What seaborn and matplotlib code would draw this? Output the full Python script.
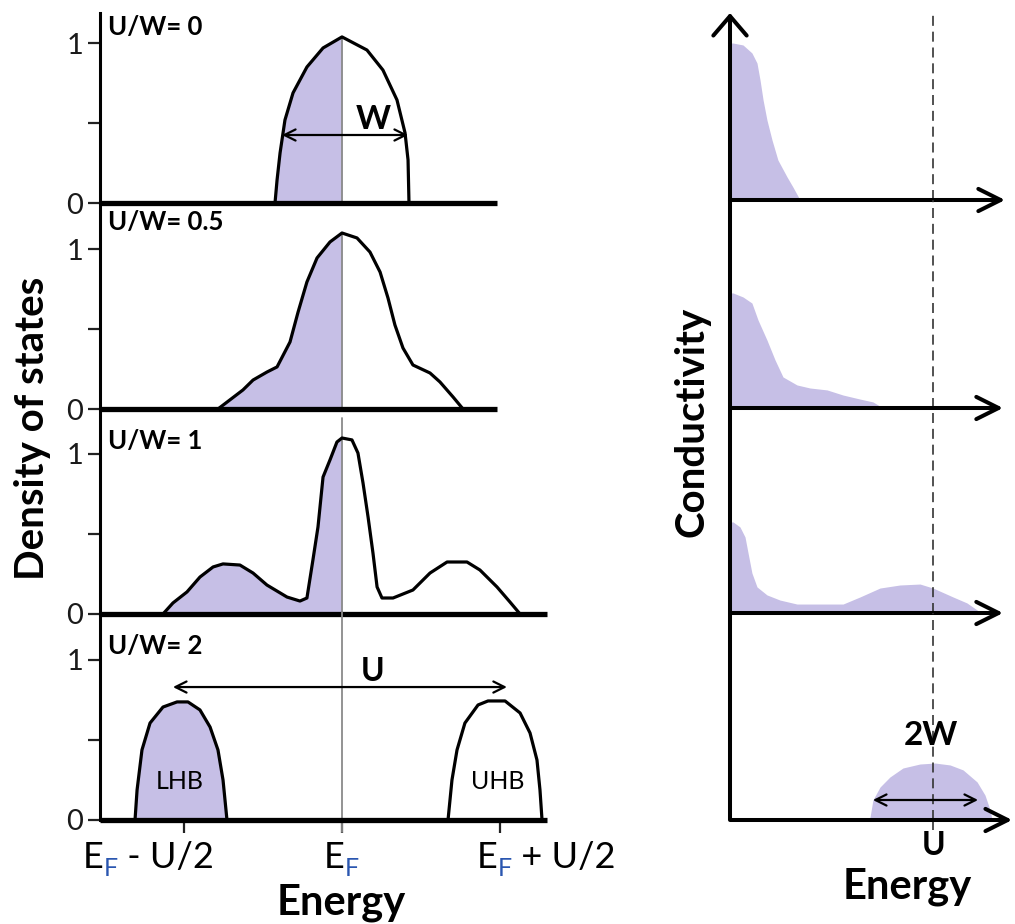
import matplotlib
matplotlib.use('Agg')
import matplotlib.pyplot as plt
import seaborn as sns
import numpy as np

# ---------------- data (energy in units of U/2 from E_F, DOS in arbitrary units) ----------------
dos0_x = [-0.424, -0.411, -0.392, -0.361, -0.310, -0.222, -0.120, 0.0, 0.158, 0.259, 0.348, 0.399, 0.418, 0.424]
dos0_y = [0.0, 0.144, 0.313, 0.519, 0.688, 0.850, 0.969, 1.038, 0.956, 0.831, 0.644, 0.438, 0.269, 0.0]

dos05_x = [-0.785, -0.627, -0.563, -0.475, -0.411, -0.329, -0.278, -0.222, -0.158, -0.076, 0.0,
           0.095, 0.177, 0.241, 0.291, 0.335, 0.386, 0.449, 0.557, 0.620, 0.703, 0.766]
dos05_y = [0.0, 0.119, 0.181, 0.231, 0.263, 0.419, 0.606, 0.794, 0.944, 1.044, 1.10,
           1.069, 0.981, 0.856, 0.694, 0.525, 0.381, 0.275, 0.225, 0.169, 0.075, 0.0]

dos1_x = [-1.133, -1.070, -0.981, -0.899, -0.816, -0.753, -0.646, -0.563, -0.475, -0.348, -0.266, -0.222,
          -0.184, -0.152, -0.120, -0.076, -0.032, 0.0, 0.063, 0.101, 0.133, 0.165, 0.196, 0.222, 0.253,
          0.323, 0.449, 0.557, 0.665, 0.791, 0.873, 0.981, 1.063, 1.127]
dos1_y = [0.0, 0.069, 0.138, 0.231, 0.294, 0.313, 0.306, 0.256, 0.181, 0.106, 0.081, 0.100,
          0.338, 0.544, 0.856, 0.963, 1.075, 1.10, 1.088, 1.006, 0.819, 0.606, 0.381, 0.169, 0.100,
          0.100, 0.150, 0.256, 0.325, 0.325, 0.275, 0.169, 0.075, 0.0]

lhb_x = [-1.310, -1.297, -1.266, -1.215, -1.133, -1.044, -0.975, -0.899, -0.835, -0.785, -0.753, -0.728]
lhb_y = [0.0, 0.188, 0.438, 0.606, 0.706, 0.738, 0.738, 0.688, 0.581, 0.438, 0.250, 0.0]
uhb_x = [0.671, 0.696, 0.728, 0.778, 0.861, 0.924, 1.032, 1.127, 1.190, 1.234, 1.253, 1.266]
uhb_y = [0.0, 0.25, 0.438, 0.606, 0.719, 0.744, 0.744, 0.669, 0.544, 0.375, 0.188, 0.0]

# conductivity (energy in units of U)
sig0_x = [0.0, 0.015, 0.064, 0.108, 0.133, 0.148, 0.163, 0.182, 0.207, 0.236, 0.281, 0.310, 0.345]
sig0_y = [0.981, 0.981, 0.969, 0.919, 0.856, 0.750, 0.625, 0.500, 0.375, 0.250, 0.144, 0.081, 0.0]

sig05_x = [0.0, 0.015, 0.064, 0.108, 0.138, 0.182, 0.222, 0.261, 0.330, 0.394, 0.478, 0.557, 0.640, 0.704, 0.754]
sig05_y = [0.719, 0.719, 0.694, 0.656, 0.550, 0.425, 0.300, 0.194, 0.144, 0.125, 0.113, 0.081, 0.056, 0.038, 0.0]

sig1_x = [0.0, 0.015, 0.049, 0.074, 0.089, 0.108, 0.133, 0.182, 0.246, 0.330, 0.443, 0.557, 0.640, 0.739,
          0.837, 0.936, 1.0, 1.099, 1.167, 1.217, 1.232]
sig1_y = [0.569, 0.569, 0.538, 0.475, 0.375, 0.250, 0.163, 0.113, 0.081, 0.056, 0.056, 0.056, 0.100, 0.156,
          0.175, 0.181, 0.156, 0.100, 0.063, 0.019, 0.0]

sig2_x = [0.680, 0.690, 0.704, 0.739, 0.788, 0.852, 0.936, 1.010, 1.084, 1.148, 1.217, 1.256, 1.281, 1.291]
sig2_y = [0.0, 0.019, 0.125, 0.206, 0.269, 0.325, 0.350, 0.356, 0.344, 0.313, 0.238, 0.156, 0.063, 0.0]

panel_labels = ['U/W= 0', 'U/W= 0.5', 'U/W= 1', 'U/W= 2']
dos_ticks = [-1, 0, 1]
U_pos = 1.0

# ---------------- styling / layout ----------------
sns.set_theme(style='white')
plt.rcParams['font.family'] = ['Lato', 'DejaVu Sans']
plt.rcParams['text.color'] = 'black'
plt.rcParams['axes.labelcolor'] = 'black'

W, H = 1015, 924
fig = plt.figure(figsize=(W / 100, H / 100), dpi=100)
LAV = '#c6bfe6'
BLUE = '#2a56b0'


def rect(l, t, r, b):
    return [l / W, 1 - b / H, (r - l) / W, (b - t) / H]


def fpt(x, y):
    return x / W, 1 - y / H


# left DOS panels
LX0, LX1, XC, XU, YU = 100, 560, 342, 158, 160
left_geom = [(13, 203), (203, 409), (409, 614), (614, 820)]
line_ends = [0.981, 0.981, 1.297, 1.297]
curves = [[(dos0_x, dos0_y, 'left')], [(dos05_x, dos05_y, 'left')], [(dos1_x, dos1_y, 'left')],
          [(lhb_x, lhb_y, 'all'), (uhb_x, uhb_y, 'none')]]
label_base = [35, 230, 449, 654]
ef_top = [1.038, 1.10, 1.225, 1.3]

left_axes = []
for i, (t, b) in enumerate(left_geom):
    ax = fig.add_axes(rect(LX0, t, LX1, b))
    left_axes.append(ax)
    xmin, xmax = (LX0 - XC) / XU, (LX1 - XC) / XU
    ax.set_xlim(xmin, xmax)
    ax.set_ylim(0, (b - t) / YU)
    for s in ['top', 'right', 'bottom']:
        ax.spines[s].set_visible(False)
    ax.spines['left'].set_linewidth(2.2)
    ax.spines['left'].set_color('black')
    ax.patch.set_alpha(0)
    # E_F line
    ax.plot([0, 0], [0, ef_top[i]], color='#8a8a8a', lw=1.3, zorder=3, clip_on=False)
    for cx, cy, mode in curves[i]:
        cx = np.array(cx); cy = np.array(cy)
        if mode == 'left':
            m = cx <= 0
            ax.fill_between(cx[m], cy[m], 0, color=LAV, lw=0, zorder=2)
        elif mode == 'all':
            ax.fill_between(cx, cy, 0, color=LAV, lw=0, zorder=2)
        sns.lineplot(x=cx, y=cy, ax=ax, sort=False, estimator=None, color='black', lw=2.3,
                     zorder=4, clip_on=False, solid_joinstyle='round')
    ax.plot([xmin, line_ends[i]], [0, 0], color='black', lw=3.8, solid_capstyle='butt',
            zorder=5, clip_on=False)
    ax.set_yticks([0, 1])
    ax.set_yticklabels(['0', '1'])
    ax.set_yticks([0.5], minor=True)
    ax.tick_params(axis='y', which='both', left=True, direction='out', length=9, width=1.6,
                   color='#222', labelsize=21, labelcolor='#1a1a1a', pad=3)
    if i == 3:
        ax.set_xticks(dos_ticks)
        ax.set_xticklabels(['', '', ''])
        ax.tick_params(axis='x', bottom=True, direction='out', length=9, width=1.6, color='#222')
        ax.plot([0, 0], [0, -12 / YU], color='#8a8a8a', lw=1.3, clip_on=False)
    else:
        ax.set_xticks([])
    ax.set_xlabel('')
    ax.set_ylabel('')
    fig.text(*fpt(108, label_base[i]), panel_labels[i], fontsize=18.5, fontweight='bold',
             ha='left', va='baseline', color='black')

# annotations in left panels
arr = dict(arrowstyle='<->', lw=1.6, color='black', mutation_scale=20, shrinkA=0, shrinkB=0)
left_axes[0].annotate('', xy=(0.418, 0.425), xytext=(-0.38, 0.425), arrowprops=arr, zorder=6)
left_axes[0].text(0.196, 0.52, 'W', fontsize=24, fontweight='bold', ha='center', va='center')
left_axes[3].annotate('', xy=(1.044, 0.831), xytext=(-1.07, 0.831), arrowprops=arr, zorder=6)
left_axes[3].text(0.196, 0.93, 'U', fontsize=23, fontweight='bold', ha='center', va='center')
left_axes[3].text(-1.025, 0.24, 'LHB', fontsize=18, ha='center', va='center')
left_axes[3].text(0.987, 0.24, 'UHB', fontsize=18, ha='center', va='center')

# right conductivity panels
RX0, RX1, RU = 730, 1015, 203
right_geom = [(13, 200), (200, 408), (408, 613), (613, 820)]
sig_curves = [(sig0_x, sig0_y), (sig05_x, sig05_y), (sig1_x, sig1_y), (sig2_x, sig2_y)]
tips = [1.355, 1.345, 1.345, 1.39]
right_axes = []
for i, (t, b) in enumerate(right_geom):
    ax = fig.add_axes(rect(RX0, t, RX1, b))
    right_axes.append(ax)
    ax.set_xlim(0, (RX1 - RX0) / RU)
    ax.set_ylim(0, (b - t) / YU)
    for s in ['top', 'right', 'bottom', 'left']:
        ax.spines[s].set_visible(False)
    ax.patch.set_alpha(0)
    ax.set_xticks([]); ax.set_yticks([])
    sx, sy = sig_curves[i]
    ax.fill_between(sx, sy, 0, color=LAV, lw=0, zorder=2)
    ax.axvline(U_pos, color='#333333', lw=1.2, dashes=(6, 3.5), zorder=3)
    ax.annotate('', xy=(tips[i], 0), xytext=(0, 0),
                arrowprops=dict(arrowstyle='->', lw=2.9, color='black', mutation_scale=40,
                                shrinkA=0, shrinkB=0), annotation_clip=False, zorder=5)
    if i == 0:
        ax.annotate('', xy=(0, (b - t) / YU), xytext=(0, -0.01),
                    arrowprops=dict(arrowstyle='->, head_length=0.35, head_width=0.3', lw=2.9,
                                    color='black', mutation_scale=40, shrinkA=0, shrinkB=0),
                    annotation_clip=False, zorder=5)
    else:
        ax.plot([0, 0], [0, (b - t) / YU], color='black', lw=2.9, clip_on=False, zorder=5,
                solid_capstyle='butt')
    if i == 3:
        ax.plot([U_pos, U_pos], [0, -10 / YU], color='#333333', lw=1.2, dashes=(6, 3.5),
                clip_on=False)
        ax.annotate('', xy=(1.222, 0.125), xytext=(0.704, 0.125), arrowprops=arr, zorder=6)
        ax.text(0.99, 0.53, '2W', fontsize=24, fontweight='bold', ha='center', va='center')

# axis titles
fig.text(*fpt(33, 428), 'Density of states', rotation=90, fontsize=29, fontweight='bold',
         ha='center', va='center')
fig.text(*fpt(692, 422), 'Conductivity', rotation=90, fontsize=29, fontweight='bold',
         ha='center', va='center')
fig.text(*fpt(341, 914), 'Energy', fontsize=30, fontweight='bold', ha='center', va='baseline')
fig.text(*fpt(907, 898), 'Energy', fontsize=30, fontweight='bold', ha='center', va='baseline')
fig.text(*fpt(934, 855), 'U', fontsize=23, fontweight='bold', ha='center', va='baseline')

# energy tick labels with blue subscript F
renderer = fig.canvas.get_renderer()


def ef_label(cx, base, rest):
    parts = [('E', 26, 'black', 0), ('F', 18, BLUE, -8), (rest, 26, 'black', 0)]
    objs = []
    widths = []
    for txt, fs, col, dy in parts:
        if not txt:
            continue
        o = fig.text(0, 0, txt, fontsize=fs, color=col, ha='left', va='baseline')
        widths.append(o.get_window_extent(renderer).width)
        objs.append((o, dy))
    total = sum(widths)
    x = cx - total / 2
    for (o, dy), w in zip(objs, widths):
        o.set_position(fpt(x, base - dy))
        x += w


ef_label(148, 868, ' - U/2')
ef_label(341, 868, '')
ef_label(546, 868, ' + U/2')

fig.savefig('out.png', dpi=100)
